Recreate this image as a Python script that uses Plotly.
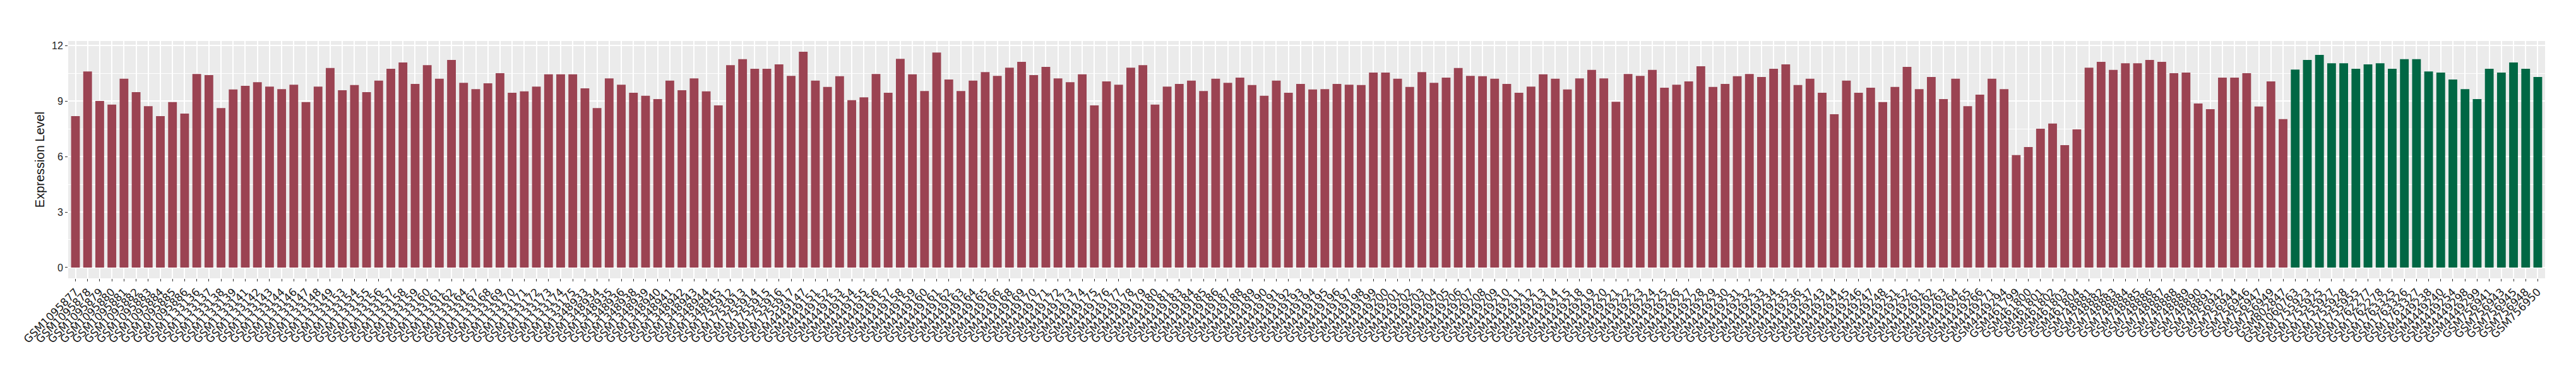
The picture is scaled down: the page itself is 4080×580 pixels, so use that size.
import plotly.graph_objects as go

# ---- data ----
samples_red = [
    "GSM1095877", "GSM1095878", "GSM1095879", "GSM1095880", "GSM1095881",
    "GSM1095882", "GSM1095883", "GSM1095884", "GSM1095885", "GSM1095886",
    "GSM1133136", "GSM1133137", "GSM1133138", "GSM1133139", "GSM1133141",
    "GSM1133142", "GSM1133143", "GSM1133144", "GSM1133146", "GSM1133147",
    "GSM1133148", "GSM1133149", "GSM1133153", "GSM1133154", "GSM1133155",
    "GSM1133156", "GSM1133157", "GSM1133158", "GSM1133159", "GSM1133160",
    "GSM1133161", "GSM1133162", "GSM1133164", "GSM1133167", "GSM1133168",
    "GSM1133169", "GSM1133170", "GSM1133171", "GSM1133172", "GSM1133173",
    "GSM1133174", "GSM1133175", "GSM1348933", "GSM1348934", "GSM1348935",
    "GSM1348936", "GSM1348938", "GSM1348939", "GSM1348940", "GSM1348941",
    "GSM1348942", "GSM1348943", "GSM1348944", "GSM1348945", "GSM1755912",
    "GSM1755913", "GSM1755914", "GSM1755915", "GSM1755916", "GSM1755917",
    "GSM4449147", "GSM4449151", "GSM4449152", "GSM4449153", "GSM4449154",
    "GSM4449155", "GSM4449156", "GSM4449157", "GSM4449158", "GSM4449159",
    "GSM4449160", "GSM4449161", "GSM4449162", "GSM4449163", "GSM4449164",
    "GSM4449165", "GSM4449166", "GSM4449168", "GSM4449169", "GSM4449170",
    "GSM4449171", "GSM4449172", "GSM4449173", "GSM4449174", "GSM4449175",
    "GSM4449176", "GSM4449177", "GSM4449178", "GSM4449179", "GSM4449180",
    "GSM4449181", "GSM4449183", "GSM4449184", "GSM4449185", "GSM4449186",
    "GSM4449187", "GSM4449188", "GSM4449189", "GSM4449190", "GSM4449191",
    "GSM4449192", "GSM4449193", "GSM4449194", "GSM4449195", "GSM4449196",
    "GSM4449197", "GSM4449198", "GSM4449199", "GSM4449200", "GSM4449201",
    "GSM4449202", "GSM4449203", "GSM4449204", "GSM4449205", "GSM4449206",
    "GSM4449207", "GSM4449208", "GSM4449209", "GSM4449210", "GSM4449211",
    "GSM4449212", "GSM4449213", "GSM4449214", "GSM4449215", "GSM4449218",
    "GSM4449219", "GSM4449220", "GSM4449221", "GSM4449222", "GSM4449223",
    "GSM4449224", "GSM4449225", "GSM4449226", "GSM4449227", "GSM4449228",
    "GSM4449229", "GSM4449230", "GSM4449231", "GSM4449232", "GSM4449233",
    "GSM4449234", "GSM4449235", "GSM4449236", "GSM4449237", "GSM4449243",
    "GSM4449244", "GSM4449245", "GSM4449246", "GSM4449247", "GSM4449248",
    "GSM4449251", "GSM4449252", "GSM4449261", "GSM4449262", "GSM4449263",
    "GSM4449264", "GSM4449265", "GSM4449266", "GSM4449271", "GSM4449294",
    "GSM461799", "GSM461800", "GSM461801", "GSM461802", "GSM461803",
    "GSM461804", "GSM748881", "GSM748882", "GSM748883", "GSM748884",
    "GSM748885", "GSM748886", "GSM748887", "GSM748888", "GSM748889",
    "GSM748890", "GSM748891", "GSM756942", "GSM756944", "GSM756946",
    "GSM756947", "GSM756949", "GSM802847",
]

values_red = [
    8.19, 10.61, 9.01, 8.81, 10.21, 9.49, 8.73, 8.19, 8.95, 8.33,
    10.47, 10.41, 8.63, 9.63, 9.83, 10.03, 9.79, 9.65, 9.89, 8.95,
    9.79, 10.79, 9.59, 9.87, 9.49, 10.11, 10.75, 11.09, 9.93, 10.95,
    10.21, 11.23, 9.99, 9.65, 9.97, 10.51, 9.45, 9.53, 9.79, 10.45,
    10.45, 10.45, 9.69, 8.63, 10.23, 9.89, 9.45, 9.29, 9.11, 10.11,
    9.59, 10.23, 9.53, 8.77, 10.95, 11.27, 10.75, 10.75, 10.99, 10.37,
    11.67, 10.11, 9.77, 10.35, 9.05, 9.21, 10.47, 9.45, 11.29, 10.45,
    9.55, 11.63, 10.17, 9.55, 10.11, 10.57, 10.37, 10.81, 11.13, 10.41,
    10.85, 10.23, 10.03, 10.45, 8.77, 10.07, 9.89, 10.81, 10.95, 8.81,
    9.79, 9.93, 10.11, 9.55, 10.21, 9.99, 10.27, 9.87, 9.29, 10.11,
    9.45, 9.93, 9.63, 9.65, 9.93, 9.89, 9.87, 10.55, 10.55, 10.21,
    9.77, 10.57, 9.99, 10.27, 10.79, 10.37, 10.35, 10.21, 9.93, 9.45,
    9.79, 10.45, 10.21, 9.63, 10.23, 10.69, 10.23, 8.97, 10.47, 10.37,
    10.69, 9.73, 9.89, 10.07, 10.89, 9.77, 9.93, 10.35, 10.47, 10.31,
    10.75, 10.99, 9.87, 10.21, 9.45, 8.29, 10.11, 9.45, 9.73, 8.95,
    9.77, 10.85, 9.65, 10.31, 9.11, 10.21, 8.73, 9.35, 10.21, 9.65,
    6.08, 6.52, 7.51, 7.79, 6.62, 7.47, 10.81, 11.13, 10.69, 11.05,
    11.05, 11.23, 11.13, 10.51, 10.55, 8.87, 8.57, 10.27, 10.27, 10.51,
    8.71, 10.07, 8.03,
]

samples_green = [
    "GSM1060763", "GSM1755923", "GSM1755925", "GSM1755927", "GSM1755928", "GSM1755955",
    "GSM1762277", "GSM1762278", "GSM1763325", "GSM1763326", "GSM1763327", "GSM4449238",
    "GSM4449240", "GSM4449254", "GSM4449298", "GSM4449299", "GSM756941", "GSM756943",
    "GSM756945", "GSM756948", "GSM756950",
]
values_green = [
    10.71, 11.23, 11.50, 11.05, 11.05, 10.75, 10.99, 11.05, 10.75, 11.27, 11.27,
    10.61, 10.55, 10.17, 9.65, 9.11, 10.75, 10.55, 11.09, 10.75, 10.31,
]

y_ticks = [0, 3, 6, 9, 12]
y_title = "Expression Level"

all_samples = samples_red + samples_green

RED = "#9B4352"
GREEN = "#006744"

fig = go.Figure()
fig.add_trace(go.Bar(x=samples_red, y=values_red,
                     marker=dict(color=RED, line=dict(width=0)), showlegend=False))
fig.add_trace(go.Bar(x=samples_green, y=values_green,
                     marker=dict(color=GREEN, line=dict(width=0)), showlegend=False))

ymax = max(values_red + values_green)
fig.update_layout(
    width=4080, height=580,
    margin=dict(l=100, r=57, t=57, b=147, pad=0),
    paper_bgcolor="white",
    plot_bgcolor="#EBEBEB",
    barmode="overlay",
    bargap=0.28,
    font=dict(family="Liberation Sans, Arial, sans-serif", color="#222222"),
    xaxis=dict(
        type="category",
        categoryorder="array",
        categoryarray=all_samples,
        tickmode="array",
        tickvals=all_samples,
        ticktext=all_samples,
        range=[-0.6, len(all_samples) - 0.4],
        tickangle=-45,
        automargin=False,
        tickfont=dict(family="DejaVu Sans, sans-serif", size=17, color="#1a1a1a"),
        ticks="outside", ticklen=4, tickwidth=1, tickcolor="#333333",
        showgrid=True, gridcolor="white", gridwidth=1.6,
        showline=False, zeroline=False,
    ),
    yaxis=dict(
        range=[-0.05 * ymax, ymax * 1.05],
        tickmode="array", tickvals=y_ticks,
        automargin=False,
        tickfont=dict(family="Liberation Sans, Arial, sans-serif", size=16, color="#222222"),
        ticks="outside", ticklen=4, tickwidth=1, tickcolor="#333333",
        showgrid=True, gridcolor="white", gridwidth=1.6,
        minor=dict(dtick=1.5, tick0=0, showgrid=True, gridcolor="white", gridwidth=0.8, ticks=""),
        zeroline=False, showline=False,
        title=dict(text=y_title, font=dict(family="Liberation Sans, Arial, sans-serif", size=20,
                                           color="#111111"), standoff=6),
    ),
)

fig.write_html("out.html")
